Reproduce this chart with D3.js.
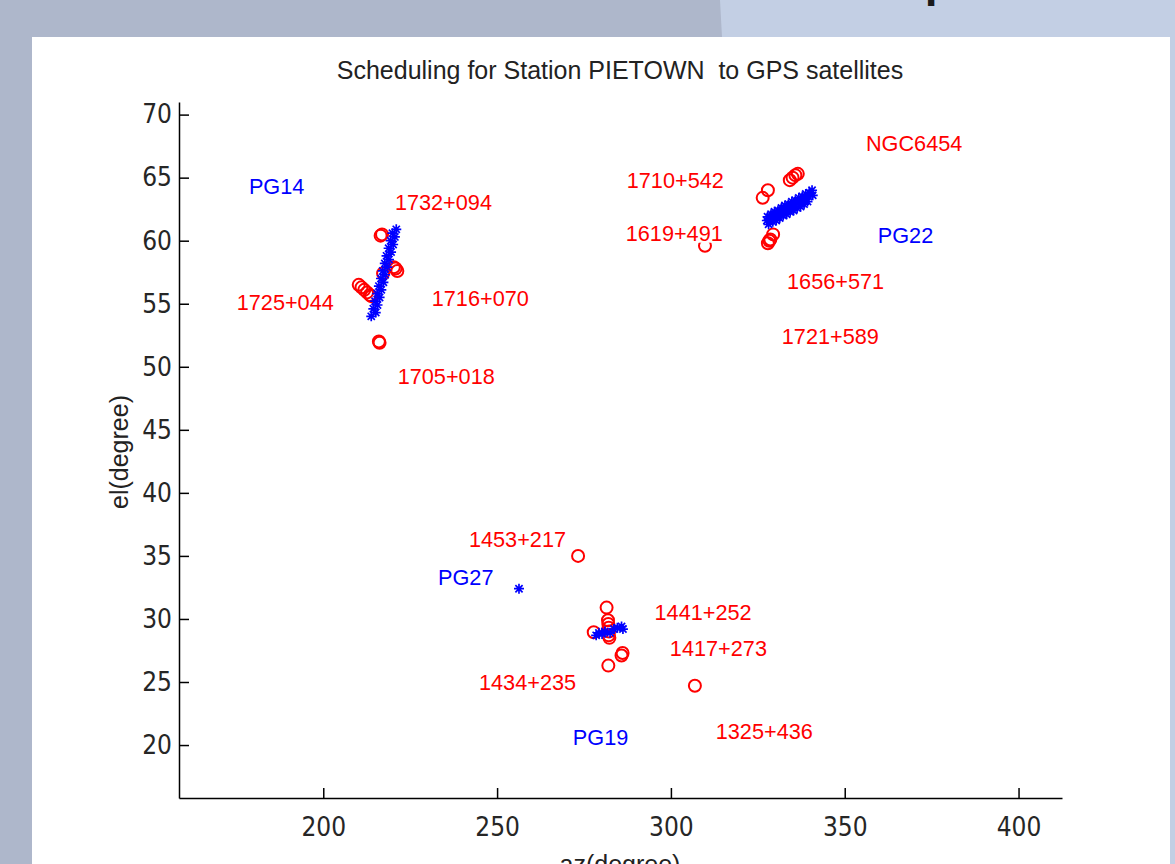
<!DOCTYPE html>
<html>
<head>
<meta charset="utf-8">
<script src="https://cdn.jsdelivr.net/npm/d3@7"></script>
<style>
  body { margin: 0; padding: 0; overflow: hidden; background: #aeb7cb; }
  text { white-space: pre; }
</style>
</head>
<body>
<div id="vis"></div>
<script>
//Declare constants for frame
const FRAME_WIDTH = 1175;
const FRAME_HEIGHT = 864;
const PLOT = {left: 179, right: 1062, top: 102, bottom: 798};

// axis limits and ticks
const AZ_LIMITS = [158.5, 412.5];
const EL_LIMITS = [15.8, 71];
const AZ_TICKS = [200, 250, 300, 350, 400];
const EL_TICKS = [20, 25, 30, 35, 40, 45, 50, 55, 60, 65, 70];

// radio sources (red circles), [az, el]
const SOURCE_POINTS = [
  [216.5, 60.4], [216.9, 60.5],
  [217.2, 57.4],
  [220.3, 57.9], [220.8, 57.8], [221.3, 57.6],
  [210.2, 56.5], [211.0, 56.3], [211.8, 56.1], [212.6, 55.9], [213.4, 55.7], [213.8, 55.6],
  [216.0, 52.0], [216.2, 51.9],
  [334.2, 64.8], [335.0, 65.0], [335.8, 65.2], [336.5, 65.3],
  [326.4, 63.4], [327.9, 64.0],
  [327.9, 59.8], [328.3, 60.0], [328.6, 60.1], [329.4, 60.5],
  [309.8, 59.6],
  [273.3, 35.0],
  [281.5, 30.9],
  [277.8, 28.95],
  [281.9, 29.9], [282.0, 29.6], [282.1, 29.3], [282.2, 29.0], [282.1, 28.7], [282.3, 28.5],
  [285.8, 27.1], [286.1, 27.3],
  [282.0, 26.3],
  [306.9, 24.7]
];

// GPS satellite tracks (blue asterisks), [az, el]
const PG14_TRACK = [
  [213.8, 54.0], [214.4, 54.6], [214.9, 55.2], [215.5, 55.8], [216.0, 56.4], [216.6, 57.0],
  [217.1, 57.6], [217.7, 58.2], [218.2, 58.8], [218.8, 59.4], [219.4, 60.0], [219.9, 60.6],
  [215.1, 54.3], [215.6, 54.9], [216.2, 55.5], [216.7, 56.1], [217.3, 56.7], [217.8, 57.3],
  [218.4, 57.9], [218.9, 58.5], [219.5, 59.1], [220.1, 59.7], [220.6, 60.3], [221.0, 60.9]
];
const PG22_TRACK = [
  [327.8, 61.9], [328.8, 62.1], [329.8, 62.3], [330.8, 62.4], [331.8, 62.6], [332.8, 62.8],
  [333.8, 62.9], [334.8, 63.1], [335.8, 63.2], [336.8, 63.4], [337.8, 63.5], [338.8, 63.7],
  [339.8, 63.8], [340.6, 64.0],
  [327.6, 61.6], [328.6, 61.8], [329.6, 61.9], [330.6, 62.1], [331.6, 62.2], [332.6, 62.4],
  [333.6, 62.5], [334.6, 62.7], [335.6, 62.9], [336.6, 63.0], [337.6, 63.2], [338.6, 63.3],
  [339.6, 63.5], [340.8, 63.6],
  [328.1, 61.3], [329.3, 61.5], [330.3, 61.6], [331.3, 61.8], [332.3, 62.0], [333.3, 62.1],
  [334.3, 62.3], [335.3, 62.4], [336.3, 62.6], [337.3, 62.7], [338.3, 62.9], [339.3, 63.1]
];
const PG19_TRACK = [
  [278.5, 28.7], [279.3, 28.9], [280.2, 28.8], [281.0, 29.0], [282.5, 28.9],
  [283.6, 29.2], [284.6, 29.3], [285.8, 29.4], [286.2, 29.2]
];
const PG27_TRACK = [[256.3, 32.4]];

// text labels
const SOURCE_NAMES = ["1732+094", "1725+044", "1716+070", "1705+018", "1710+542", "NGC6454",
                      "1619+491", "1656+571", "1721+589", "1453+217", "1441+252", "1417+273",
                      "1434+235", "1325+436"];
const SOURCE_LABEL_AZ = [220.6, 175.1, 231.2, 221.4, 287.3, 356.1, 287.0, 333.4, 331.9, 241.9, 295.3, 299.7, 244.8, 312.9];
const SOURCE_LABEL_EL = [63.0, 55.1, 55.4, 49.2, 64.8, 67.7, 60.6, 56.8, 52.4, 36.3, 30.5, 27.7, 25.0, 21.1];
const SAT_NAMES = ["PG14", "PG22", "PG27", "PG19"];
const SAT_LABEL_AZ = [178.6, 359.5, 233.0, 271.8];
const SAT_LABEL_EL = [64.3, 60.4, 33.3, 20.6];

const TITLE = "Scheduling for Station PIETOWN  to GPS satellites";
const X_LABEL = "az(degree)";
const Y_LABEL = "el(degree)";

const RED = "#ff0000";
const BLUE = "#0000ff";
const TICK_FONT = "'Liberation Sans Narrow', 'DejaVu Sans Condensed', sans-serif";
const TEXT_FONT = "'Liberation Sans', Arial, sans-serif";

const SVG = d3.select("#vis")
  .append("svg")
    .attr("width", FRAME_WIDTH)
    .attr("height", FRAME_HEIGHT)
    .style("display", "block");

// slide background
SVG.append("rect")
  .attr("x", 0).attr("y", 0)
  .attr("width", FRAME_WIDTH).attr("height", FRAME_HEIGHT)
  .attr("fill", "#aeb7cb");
SVG.append("path")
  .attr("d", "M720,0 L1175,0 L1175,864 L1170,864 L1170,37 L722,37 Z")
  .attr("fill", "#c3cfe4");
// slide heading, almost all of it above the top edge
SVG.append("text")
  .attr("x", 1004).attr("y", -4)
  .attr("text-anchor", "end")
  .attr("font-family", TEXT_FONT)
  .attr("font-size", 46)
  .attr("font-weight", "bold")
  .attr("fill", "#1a1a1a")
  .text("Schedule of VLBA stations to telescopes");

// white figure panel
SVG.append("rect")
  .attr("x", 32).attr("y", 37)
  .attr("width", 1138).attr("height", 827)
  .attr("fill", "#ffffff");

const X_SCALE = d3.scaleLinear().domain(AZ_LIMITS).range([PLOT.left, PLOT.right]);
const Y_SCALE = d3.scaleLinear().domain(EL_LIMITS).range([PLOT.bottom, PLOT.top]);

// axes (ticks point inward, no box)
const xAxis = SVG.append("g")
  .attr("transform", "translate(0," + PLOT.bottom + ")")
  .call(d3.axisBottom(X_SCALE).tickValues(AZ_TICKS).tickSizeInner(-10).tickSizeOuter(0).tickPadding(20));
const yAxis = SVG.append("g")
  .attr("transform", "translate(" + PLOT.left + ",0)")
  .call(d3.axisLeft(Y_SCALE).tickValues(EL_TICKS).tickSizeInner(-10).tickSizeOuter(0).tickPadding(7));

[xAxis, yAxis].forEach((ax) => {
  ax.select(".domain").attr("stroke", "#000").attr("stroke-width", 1.5);
  ax.selectAll(".tick line").attr("stroke", "#000").attr("stroke-width", 1.5);
  ax.selectAll(".tick text")
    .attr("font-family", TICK_FONT)
    .attr("font-size", 26)
    .attr("fill", "#262626");
});

// red circles for sources
SVG.append("g").selectAll("circle")
  .data(SOURCE_POINTS)
  .enter()
  .append("circle")
    .attr("cx", (d) => { return X_SCALE(d[0]); })
    .attr("cy", (d) => { return Y_SCALE(d[1]); })
    .attr("r", 6)
    .attr("fill", "none")
    .attr("stroke", RED)
    .attr("stroke-width", 2);

// blue asterisks for satellites
const STAR = "M-5,0L5,0M0,-5L0,5M-3.6,-3.6L3.6,3.6M-3.6,3.6L3.6,-3.6";
const allTracks = PG14_TRACK.concat(PG22_TRACK, PG19_TRACK, PG27_TRACK);
SVG.append("g").selectAll("path")
  .data(allTracks)
  .enter()
  .append("path")
    .attr("d", STAR)
    .attr("transform", (d) => { return "translate(" + X_SCALE(d[0]) + "," + Y_SCALE(d[1]) + ")"; })
    .attr("fill", "none")
    .attr("stroke", BLUE)
    .attr("stroke-width", 1.7);

// labels
function addLabels(names, az, el, color) {
  const g = SVG.append("g");
  names.forEach((name, i) => {
    const bg = g.append("rect").attr("fill", "#ffffff");
    const t = g.append("text")
      .attr("x", X_SCALE(az[i]))
      .attr("y", Y_SCALE(el[i]))
      .attr("dy", "0.35em")
      .attr("font-family", TEXT_FONT)
      .attr("font-size", 21.7)
      .attr("fill", color)
      .text(name);
    const b = t.node().getBBox();
    bg.attr("x", b.x).attr("y", b.y + 3).attr("width", b.width).attr("height", b.height - 6);
  });
}
addLabels(SOURCE_NAMES, SOURCE_LABEL_AZ, SOURCE_LABEL_EL, RED);
addLabels(SAT_NAMES, SAT_LABEL_AZ, SAT_LABEL_EL, BLUE);

// title and axis labels
SVG.append("text")
  .attr("x", 620).attr("y", 70)
  .attr("dy", "0.35em")
  .attr("text-anchor", "middle")
  .attr("font-family", TEXT_FONT)
  .attr("font-size", 25)
  .attr("fill", "#222")
  .text(TITLE);

SVG.append("text")
  .attr("x", 620).attr("y", 873)
  .attr("text-anchor", "middle")
  .attr("font-family", TEXT_FONT)
  .attr("font-size", 25)
  .attr("fill", "#222")
  .text(X_LABEL);

SVG.append("text")
  .attr("transform", "translate(128,452) rotate(-90)")
  .attr("text-anchor", "middle")
  .attr("font-family", TEXT_FONT)
  .attr("font-size", 25)
  .attr("fill", "#222")
  .text(Y_LABEL);
</script>
</body>
</html>
